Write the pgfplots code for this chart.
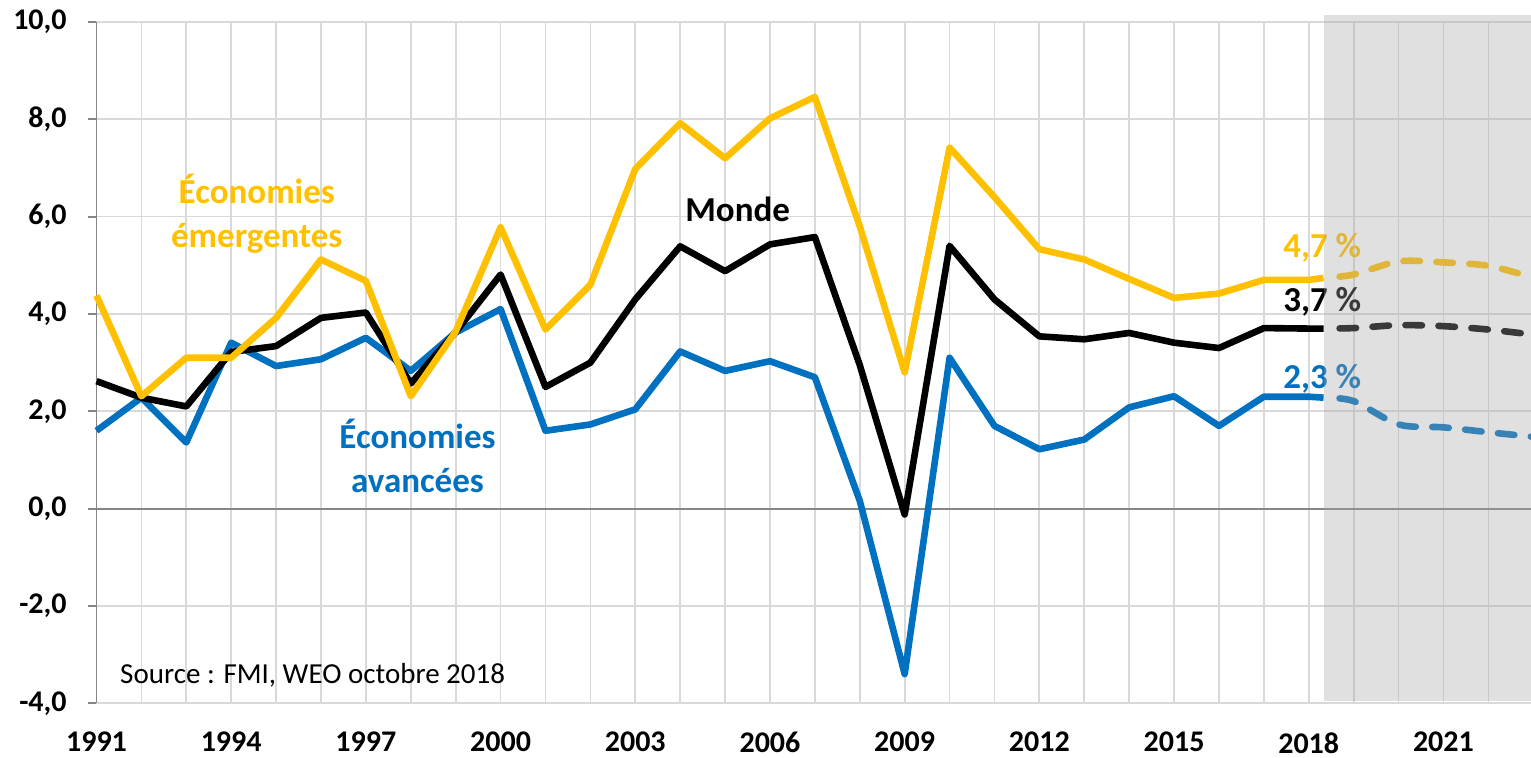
\documentclass[border=0pt]{standalone}
\usepackage{fontspec}
\setmainfont{Carlito}
\usepackage{pgfplots}
\pgfplotsset{compat=1.18}
\definecolor{emyellow}{HTML}{FFC000}
\definecolor{advblue}{HTML}{0070C0}
\definecolor{gridgray}{HTML}{D9D9D9}
\definecolor{axisgray}{HTML}{868686}
\definecolor{bandgray}{HTML}{A6A6A6}
\begin{document}
\begin{tikzpicture}
\begin{axis}[
  scale only axis,
  width=717.25pt, height=340.65pt,
  xmin=1991, xmax=2022.95, ymin=-4, ymax=10,
  clip=false,
  axis lines*=left,
  x axis line style={draw=none},
  y axis line style={draw=axisgray, line width=0.9pt},
  xtick={1991,1994,...,2021},
  minor xtick={1992,1993,...,2022},
  xticklabels={1991,1994,1997,2000,2003,2006,2009,2012,2015,2018,2021},
  ytick={-4,-2,...,10},
  yticklabels={{-4,0},{-2,0},{0,0},{2,0},{4,0},{6,0},{8,0},{10,0}},
  grid=both,
  major grid style={draw=gridgray, line width=0.85pt},
  minor grid style={draw=gridgray, line width=0.85pt},
  xtick align=inside,
  ytick align=outside,
  major tick length=4.5pt,
  minor tick length=0pt,
  xtick style={draw=none},
  ytick style={draw=axisgray, line width=0.9pt},
  xticklabel style={font=\fontsize{15}{18}\selectfont\bfseries, anchor=north, inner sep=0pt, yshift=-14.3pt},
  yticklabel style={font=\fontsize{15}{18}\selectfont\bfseries, anchor=east, inner sep=0pt},
  yticklabel shift=10.25pt,
  every axis plot/.append style={line join=round},
]
% zero line
\addplot[axisgray, line width=1pt] coordinates {(1991,0) (2022.95,0)};
% Advanced economies
\addplot[advblue, line width=3.3pt] coordinates {
(1991,1.60) (1992,2.28) (1993,1.36) (1994,3.41) (1995,2.93) (1996,3.07) (1997,3.51)
(1998,2.83) (1999,3.62) (2000,4.10) (2001,1.60) (2002,1.73) (2003,2.04) (2004,3.23)
(2005,2.83) (2006,3.03) (2007,2.70) (2008,0.16) (2009,-3.40) (2010,3.10) (2011,1.70)
(2012,1.22) (2013,1.42) (2014,2.08) (2015,2.31) (2016,1.70) (2017,2.30) (2018,2.30) (2018.33,2.28)};
% World
\addplot[black, line width=3.3pt] coordinates {
(1991,2.62) (1992,2.28) (1993,2.10) (1994,3.22) (1995,3.34) (1996,3.92) (1997,4.03)
(1998,2.57) (1999,3.63) (2000,4.81) (2001,2.50) (2002,3.00) (2003,4.30) (2004,5.39)
(2005,4.88) (2006,5.43) (2007,5.58) (2008,2.95) (2009,-0.12) (2010,5.40) (2011,4.30)
(2012,3.54) (2013,3.48) (2014,3.61) (2015,3.41) (2016,3.30) (2017,3.71) (2018,3.70) (2018.33,3.70)};
% Emerging economies
\addplot[emyellow, line width=3.3pt] coordinates {
(1991,4.38) (1992,2.31) (1993,3.10) (1994,3.10) (1995,3.92) (1996,5.12) (1997,4.68)
(1998,2.31) (1999,3.64) (2000,5.78) (2001,3.68) (2002,4.60) (2003,6.98) (2004,7.92)
(2005,7.20) (2006,8.02) (2007,8.46) (2008,5.80) (2009,2.80) (2010,7.42) (2011,6.40)
(2012,5.33) (2013,5.12) (2014,4.72) (2015,4.33) (2016,4.42) (2017,4.70) (2018,4.70) (2018.33,4.74)};
% Projections
\addplot[emyellow, line width=3.3pt, smooth, line cap=round, dash pattern=on 8.25pt off 8.25pt, dash phase=8.5pt] coordinates {
(2018.33,4.74) (2019,4.81) (2020,5.08) (2021,5.06) (2022,4.99) (2022.95,4.76)};
\addplot[black, line width=3.3pt, smooth, line cap=round, dash pattern=on 8.25pt off 8.25pt, dash phase=8.5pt] coordinates {
(2018.33,3.70) (2019,3.71) (2020,3.77) (2021,3.75) (2022,3.68) (2022.95,3.58)};
\addplot[advblue, line width=3.3pt, smooth, line cap=round, dash pattern=on 8.25pt off 8.25pt, dash phase=8.5pt] coordinates {
(2018.33,2.28) (2019,2.21) (2020,1.73) (2021,1.67) (2022,1.57) (2022.95,1.48)};
% Labels
\node[emyellow, font=\fontsize{17.5}{22}\selectfont\bfseries, align=center] at (axis cs:1994.57,6.05) {Économies\\émergentes};
\node[black, font=\fontsize{17.5}{22}\selectfont\bfseries] at (axis cs:2005.28,6.15) {Monde};
\node[advblue, font=\fontsize{17.5}{22}\selectfont\bfseries, align=center] at (axis cs:1998.15,1.08) {Économies\\avancées};
\node[emyellow, font=\fontsize{17.5}{22}\selectfont\bfseries] at (axis cs:2018.3,5.35) {4,7 \%};
\node[black, font=\fontsize{17.5}{22}\selectfont\bfseries] at (axis cs:2018.3,4.25) {3,7 \%};
\node[advblue, font=\fontsize{17.5}{22}\selectfont\bfseries] at (axis cs:2018.3,2.67) {2,3 \%};
\node[anchor=base west, font=\fontsize{14.5}{17}\selectfont, inner sep=0pt] at (axis cs:1991.52,-3.6) {Source : FMI, WEO octobre 2018};
% Forecast band
\fill[bandgray, fill opacity=0.35] (axis cs:2018.33,-3.96) rectangle (axis cs:2023.3,10.15);
\end{axis}
\pgfresetboundingbox
\path[use as bounding box] (-48.25pt,-27.35pt) rectangle (717.25pt,351.65pt);
\end{tikzpicture}
\end{document}
